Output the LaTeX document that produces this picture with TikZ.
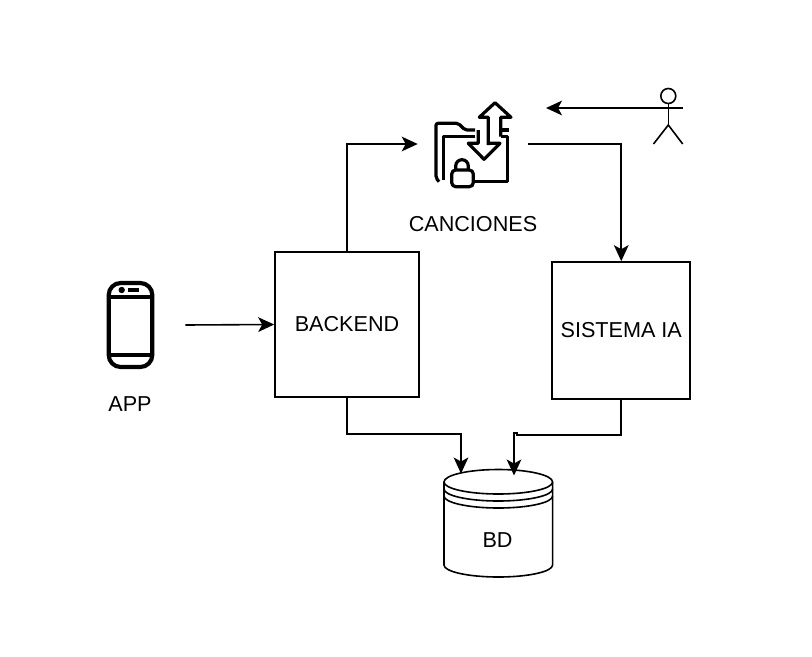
\documentclass[tikz,border=0pt]{standalone}
\usepackage{fontspec}
\setmainfont{Liberation Sans}
\usetikzlibrary{positioning,arrows.meta}
\tikzset{
  block/.style={draw, line width=1.2pt, inner sep=0pt, font=\fontsize{16.2}{19}\selectfont},
  iconbox/.style={inner sep=0pt, minimum width=82.5pt, minimum height=82.5pt},
  caption/.style={inner sep=0pt, font=\fontsize{16.2}{19}\selectfont},
  flow/.style={line width=1.2pt, -{Stealth[length=12pt, width=11pt, inset=3pt]}},
  icon/.style={line width=2.4pt, line join=round},
  thin line/.style={line width=1.2pt}
}
\begin{document}
\begin{tikzpicture}[x=0.75pt, y=-0.75pt]
  \useasboundingbox (0,0) rectangle (812,656);
  \node [block, minimum width=108pt, minimum height=108.75pt] (backend) at (347,324.5) {BACKEND};
  \node [block, minimum width=103.5pt, minimum height=102.75pt] (sistema) at (621.25,330.5) {SISTEMA IA};
  \node [iconbox] (folder) at (473,144) {};
  \node [caption, below = 12.5pt of folder] (canciones) {CANCIONES};
  \node [iconbox] (phone) at (130,325) {};
  \node [caption, below = 11.75pt of phone] (app) {APP};
  \node [inner sep=0pt, minimum width=81.75pt, minimum height=81pt] (bd) at (498.5,523) {};
  \node [caption] (bdlabel) at (497.5,540) {BD};
  \node [inner sep=0pt, minimum width=22pt, minimum height=41.5pt] (actor) at (668.3,116.5) {};
  \coordinate (hand) at (654,108);
  \coordinate (request) at (546,108);
  \coordinate (bdleft) at (461,473.5);
  \coordinate (bdright) at (514,475.5);
  \coordinate (jog) at (517,434.7);
  % phone
  \draw [line width=3.1pt, rounded corners=9pt] (108.7,283) rectangle (152.3,367);
  \draw [line width=3.1pt] (108.7,297) -- (152.3,297) (108.7,355) -- (152.3,355);
  \fill (121.7,290) circle [radius=3.2];
  \fill (128.3,288.3) rectangle (139.3,292);
  % folder
  \draw [icon, rounded corners=1.5pt] (439,181.7) -- (436,178) -- (436,123.3) -- (458.3,123.3) -- (465,130) -- (475,130);
  \draw [icon] (443.3,180) -- (443.3,136.7) -- (475,136.7);
  \draw [icon] (500.7,136.7) -- (507.7,136.7) -- (507.7,181.7) -- (473.3,181.7);
  \draw [icon] (500.7,130) -- (508.5,130);
  \draw [icon] (488.3,145) -- (488.3,117.3) -- (479.3,117.3) -- (495,102.7) -- (511,117.3) -- (500.7,117.3) -- (500.7,136.7);
  \draw [icon] (478.3,130) -- (478.3,143.3) -- (468.3,143.3) -- (484,159.3) -- (500,143.3) -- (488.3,143.3);
  \draw [icon, rounded corners=3pt, fill=white] (451.7,170) rectangle (473.3,186.7);
  \draw [icon] (455.7,170) -- (455.7,166) arc [start angle=180, end angle=360, radius=6.3] -- (468.3,170);
  % actor
  \draw [thin line] (668.3,96) circle [radius=7.5];
  \draw [thin line] (668.3,103.5) -- (668.3,125) (654,108.3) -- (682.7,108.3);
  \draw [thin line] (653.5,144) -- (668.3,125) -- (682.7,144);
  % datastore
  \draw [thin line] (444,482) arc [start angle=180, end angle=360, x radius=54.3, y radius=12.5]
    -- (552.6,565) arc [start angle=0, end angle=180, x radius=54.3, y radius=12] -- cycle;
  \draw [thin line] (444,482) arc [start angle=180, end angle=0, x radius=54.3, y radius=12];
  \draw [thin line] (444,489) arc [start angle=180, end angle=0, x radius=54.3, y radius=12];
  \draw [thin line] (444,496) arc [start angle=180, end angle=0, x radius=54.3, y radius=12];
  % connectors
  \draw [flow] (phone.east) -- (backend.west);
  \draw [flow] (backend.north) |- (folder.west);
  \draw [flow] (folder.east) -| (sistema.north);
  \draw [flow] (hand) -- (request);
  \draw [flow] (backend.south) -- ++(0,36) -| (bdleft);
  \draw [flow] (sistema.south) |- (jog) -- ++(0,-1.5) -| (bdright);
\end{tikzpicture}
\end{document}
